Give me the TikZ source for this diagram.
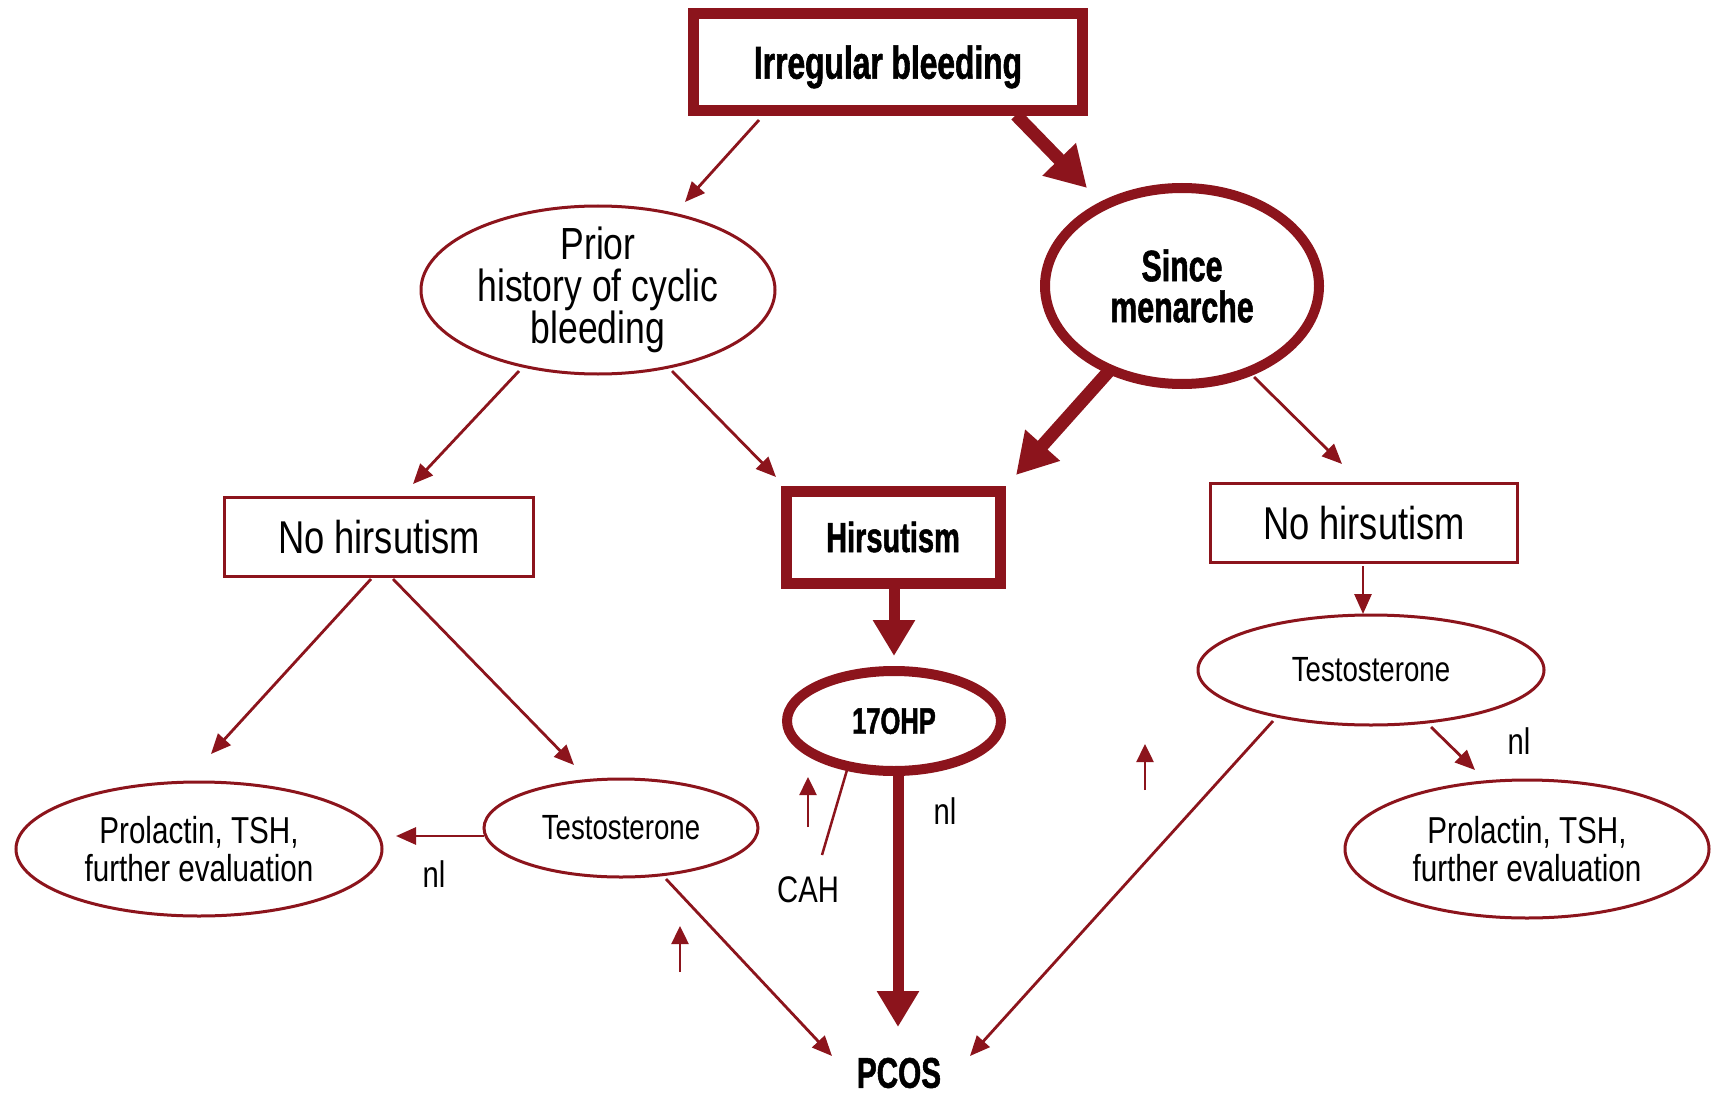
\documentclass[tikz,border=0pt]{standalone}
\usepackage{fontspec}
\setmainfont{Liberation Sans}[FakeStretch=0.79]
\newfontfamily\cbold{Liberation Sans}[FakeStretch=0.69, BoldFeatures={FakeBold=1.2}]
\usetikzlibrary{shapes.geometric,arrows.meta}
\definecolor{dred}{RGB}{140,20,28}
\newcommand\myfs[2]{\fontsize{#1pt}{#2pt}\selectfont}
\newcommand\myfb[2]{\cbold\bfseries\fontsize{#1pt}{#2pt}\selectfont}
\tikzset{
  thinbox/.style={draw=dred, line width=3pt, rectangle, inner sep=0pt},
  thickbox/.style={draw=dred, line width=11pt, rectangle, inner sep=0pt},
  thinell/.style={draw=dred, line width=3pt, ellipse, inner sep=0pt},
  thickell/.style={draw=dred, line width=10pt, ellipse, inner sep=0pt},
  tarrow/.style={draw=dred, line width=2.8pt, -{Triangle[length=20pt,width=17pt]}},
  barrow/.style={draw=dred, line width=13pt, -{Triangle[length=40pt,width=44pt]}},
  marrow/.style={draw=dred, line width=11pt, -{Triangle[length=36pt,width=40pt]}},
  uparrow/.style={draw=dred, line width=2.5pt, -{Triangle[length=18pt,width=17pt]}},
  plainline/.style={draw=dred, line width=2.5pt},
  lbl/.style={inner sep=0pt, font=\myfs{37}{37}}
}
\begin{document}
\begin{tikzpicture}[x=1pt,y=-1pt]
\fill[white] (0,0) rectangle (1713,1094);
\useasboundingbox (0,0) rectangle (1713,1094);

% nodes
\node[thickbox, minimum width=389pt, minimum height=97pt, text depth=0pt, font=\myfb{46}{46}] (ib) at (888,62) {Irregular bleeding};
\node[thinell, minimum width=354pt, minimum height=168pt, inner ysep=-8pt, align=center, font=\myfs{45}{42}] (pr) at (598,290) {Prior\\history of cyclic\\bleeding};
\node[thickell, minimum width=274pt, minimum height=196pt, align=center, font=\myfb{44}{41}] (sm) at (1182,286) {Since\\menarche};
\node[thickbox, minimum width=214pt, minimum height=92pt, font=\myfb{42}{42}] (hi) at (893,537) {Hirsutism};
\node[thinbox, minimum width=309pt, minimum height=79pt, font=\myfs{46}{46}] (nhl) at (379,537) {No hirsutism};
\node[thinbox, minimum width=307pt, minimum height=79pt, font=\myfs{46}{46}] (nhr) at (1364,523) {No hirsutism};
\node[thickell, minimum width=214pt, minimum height=100pt, font=\myfb{37}{37}] (oh) at (894,721) {17OHP};
\node[thinell, minimum width=274pt, minimum height=98pt, font=\myfs{35}{35}] (tl) at (621,828) {Testosterone};
\node[thinell, minimum width=346pt, minimum height=110pt, font=\myfs{35}{35}] (tr) at (1371,670) {Testosterone};
\node[thinell, minimum width=366pt, minimum height=134pt, align=center, font=\myfs{37.5}{38}] (pl) at (199,849) {Prolactin, TSH,\\further evaluation};
\node[thinell, minimum width=364pt, minimum height=138pt, align=center, font=\myfs{37.5}{38}] (plr) at (1527,849) {Prolactin, TSH,\\further evaluation};
\node[inner sep=0pt, font=\myfb{43}{43}] (pcos) at (899,1073) {PCOS};

% labels
\node[lbl] (nl1) at (434,874) {nl};
\node[lbl] (nl2) at (945,811) {nl};
\node[lbl] (nl3) at (1519,741) {nl};
\node[lbl] (cah) at (808,890) {CAH};

% connectors
\draw[tarrow] ([shift={(-129,58)}]ib.center) -- ([shift={(87,-88)}]pr.center);
\draw[barrow] ([shift={(128,53)}]ib.center) -- ([shift={(-95,-98)}]sm.center);
\draw[tarrow] ([shift={(-79,81)}]pr.center) -- ([shift={(34,-53)}]nhl.center);
\draw[tarrow] ([shift={(74,81)}]pr.center) -- ([shift={(-117,-60)}]hi.center);
\draw[barrow] ([shift={(-73,85)}]sm.center) -- ([shift={(123,-62)}]hi.center);
\draw[tarrow] ([shift={(72,91)}]sm.center) -- ([shift={(-22,-59)}]nhr.center);
\draw[tarrow] ([shift={(-8,42)}]nhl.center) -- ([shift={(12,-95)}]pl.center);
\draw[tarrow] ([shift={(14,42)}]nhl.center) -- ([shift={(-47,-63)}]tl.center);
\draw[tarrow] ([shift={(-137,8)}]tl.center) -- ([shift={(197,-13)}]pl.center);
\draw[tarrow] ([shift={(45,51)}]tl.center) -- ([shift={(-67,-17)}]pcos.center);
\draw[marrow] ([shift={(1,50)}]hi.center) -- ([shift={(0,-65)}]oh.center);
\draw[marrow] ([shift={(4,52)}]oh.center) -- ([shift={(-1,-46)}]pcos.center);
\draw[tarrow] ([shift={(-1,43)}]nhr.center) -- ([shift={(-8,-56)}]tr.center);
\draw[tarrow] ([shift={(-98,51)}]tr.center) -- ([shift={(71,-17)}]pcos.center);
\draw[tarrow] ([shift={(60,57)}]tr.center) -- ([shift={(-52,-79)}]plr.center);
\draw[plainline] ([shift={(-47,49)}]oh.center) -- ([shift={(14,-35)}]cah.center);

% up arrows
\coordinate (u1a) at (680,972); \coordinate (u1b) at (680,926);
\coordinate (u2a) at (808,827); \coordinate (u2b) at (808,777);
\coordinate (u3a) at (1145,790); \coordinate (u3b) at (1145,744);
\draw[uparrow] (u1a) -- (u1b);
\draw[uparrow] (u2a) -- (u2b);
\draw[uparrow] (u3a) -- (u3b);
\end{tikzpicture}
\end{document}
